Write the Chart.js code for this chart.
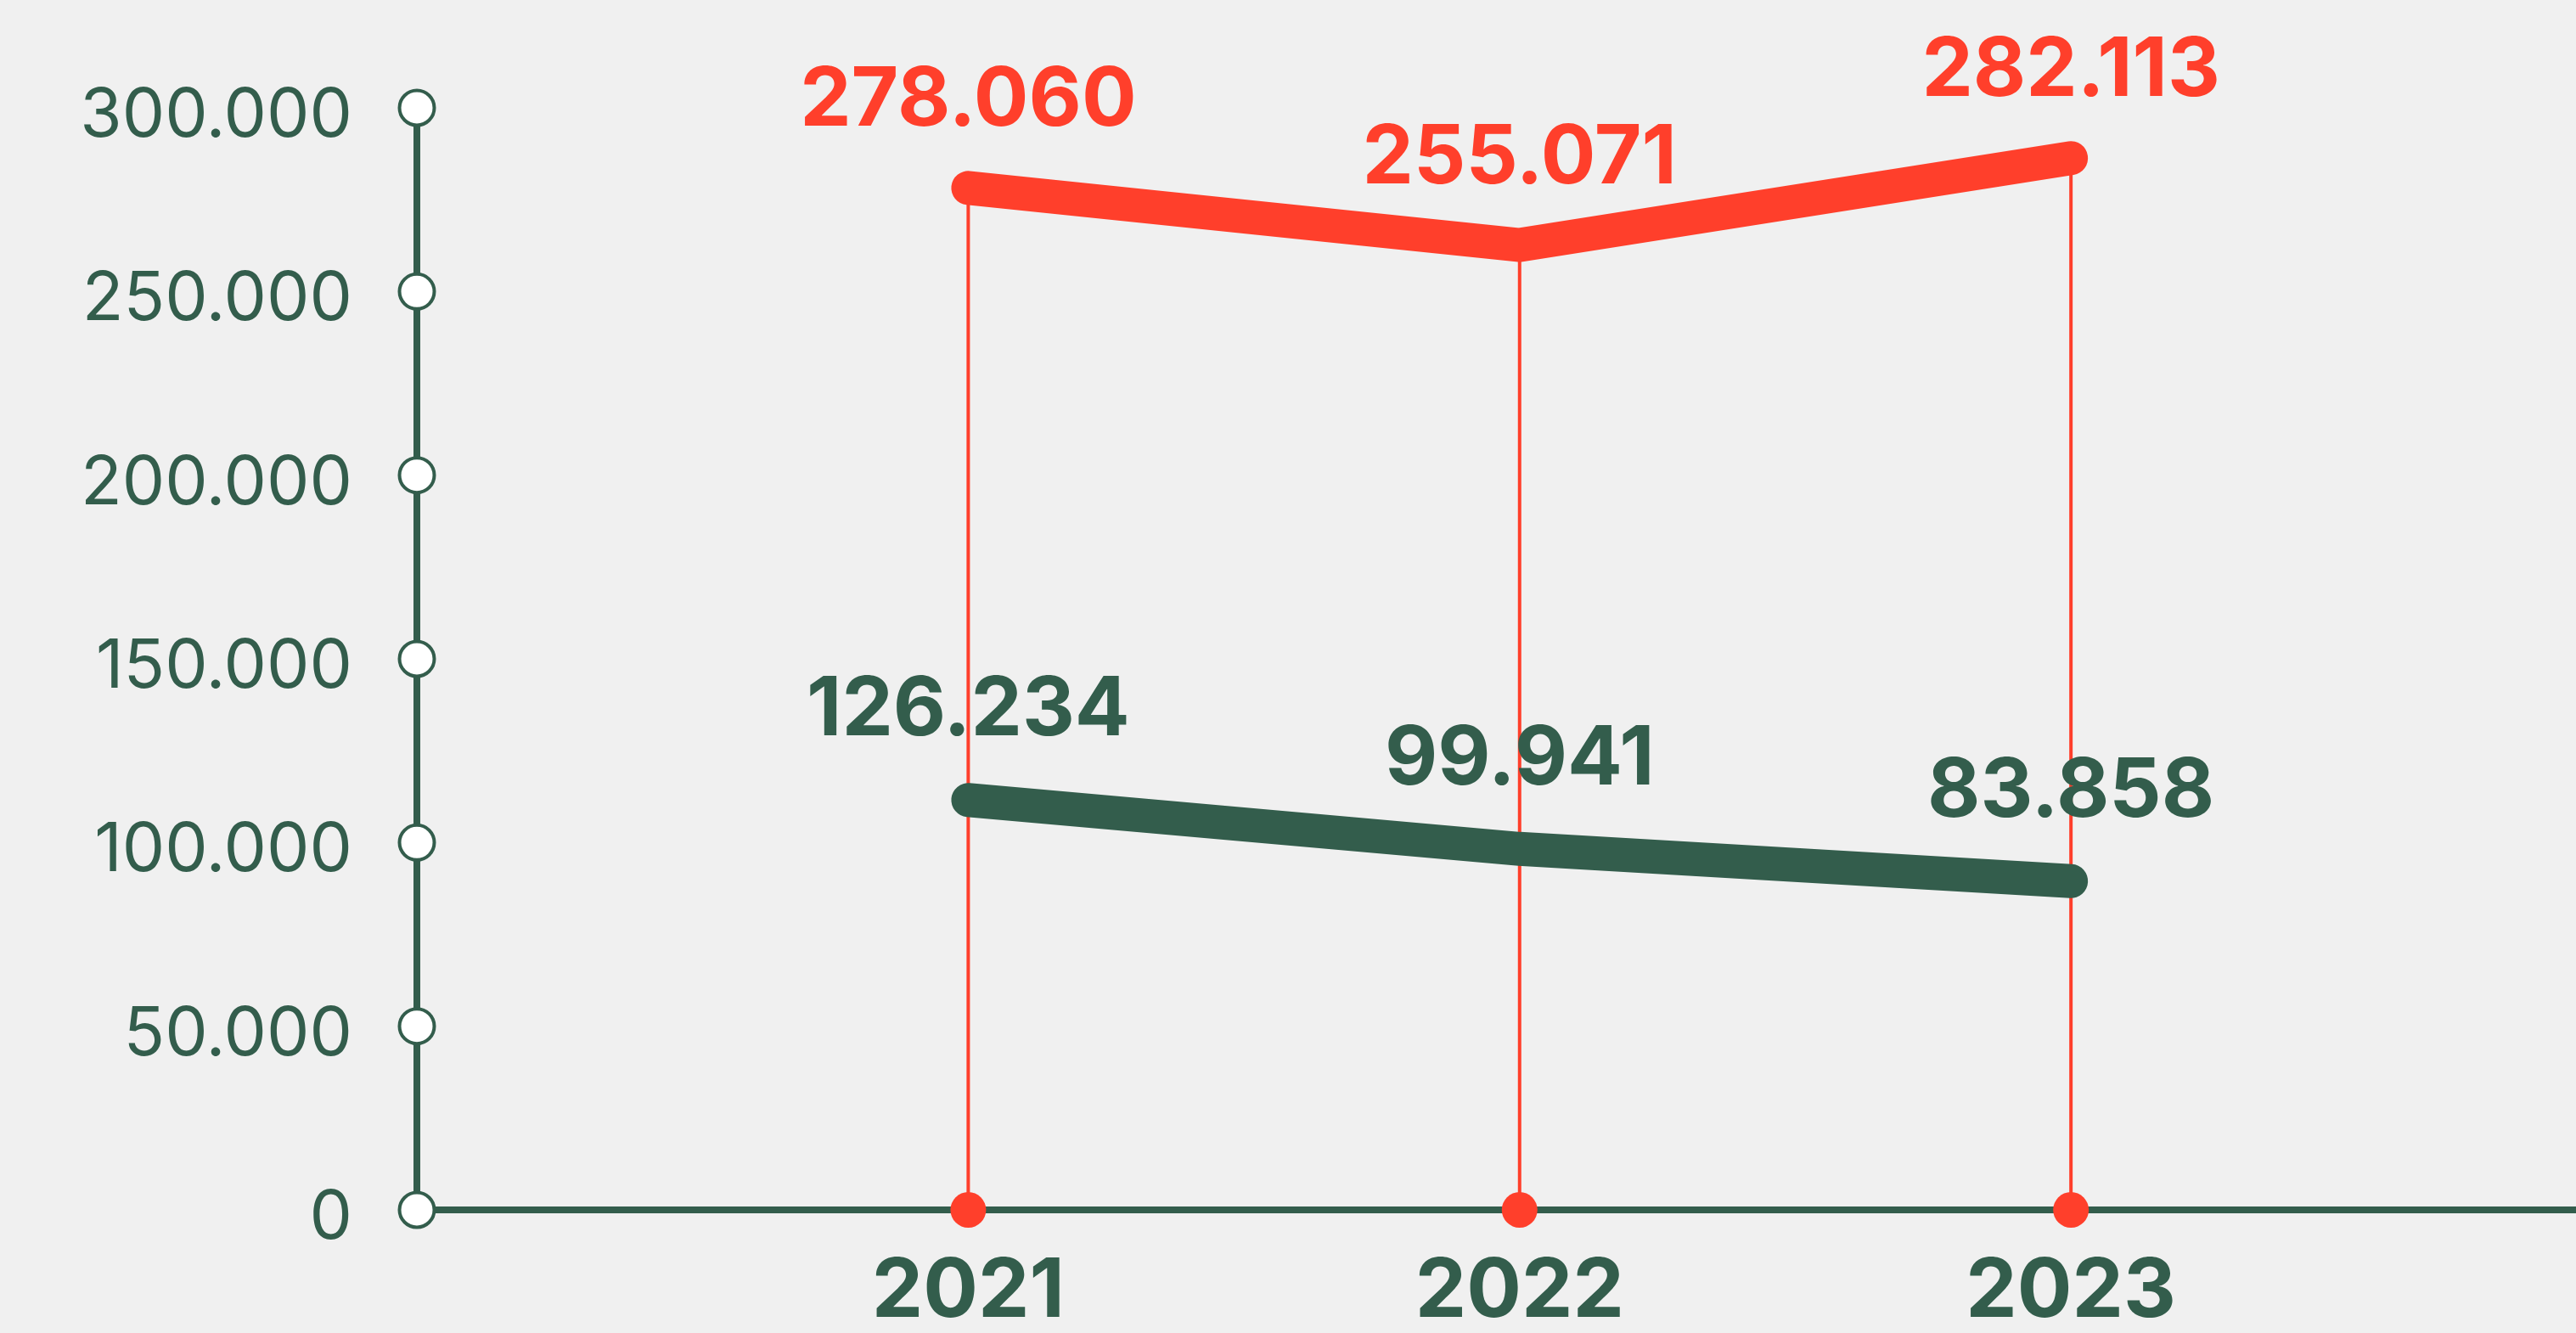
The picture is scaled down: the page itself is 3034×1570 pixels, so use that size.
<!DOCTYPE html>
<html>
<head>
<meta charset="utf-8">
<script src="https://cdn.jsdelivr.net/npm/chart.js@4"></script>
<style>
  html, body { margin: 0; padding: 0; background: #F0F0F0; overflow: hidden; }
  canvas { display: block; }
</style>
</head>
<body>
<canvas id="myChart" width="3034" height="1570"></canvas>
<script>
// data
var years = [2021, 2022, 2023];
var yearLabels = ['2021', '2022', '2023'];
var redValues = [278200, 262650, 286300];
var greenValues = [111570, 98270, 89490];
var redLabels = ['278.060', '255.071', '282.113'];
var greenLabels = ['126.234', '99.941', '83.858'];
var yTicks = [0, 50000, 100000, 150000, 200000, 250000, 300000];
var yTickLabels = ['0', '50.000', '100.000', '150.000', '200.000', '250.000', '300.000'];

var GREEN = '#335D4C';
var RED = '#FF3F2B';

function points(vals) {
    return years.map(function (y, i) { return { x: y, y: vals[i] }; });
}

var decor = {
    id: 'decor',
    beforeDatasetsDraw: function (chart) {
        var c = chart.ctx, xs = chart.scales.x, ys = chart.scales.y;
        var x0 = xs.getPixelForValue(2020);
        var yb = ys.getPixelForValue(0);
        var yt = ys.getPixelForValue(300000);
        c.save();
        c.strokeStyle = GREEN;
        c.lineWidth = 8;
        c.beginPath();
        c.moveTo(x0, yt); c.lineTo(x0, yb);
        c.moveTo(x0, yb); c.lineTo(chart.width, yb);
        c.stroke();
        // circles on the y axis
        yTicks.forEach(function (v) {
            c.beginPath();
            c.arc(x0, ys.getPixelForValue(v), 20.5, 0, Math.PI * 2);
            c.fillStyle = '#FFFFFF';
            c.fill();
            c.lineWidth = 4;
            c.strokeStyle = GREEN;
            c.stroke();
        });
        // red drop lines + dots
        years.forEach(function (yr, i) {
            var px = xs.getPixelForValue(yr);
            c.beginPath();
            c.moveTo(px, yb);
            c.lineTo(px, ys.getPixelForValue(redValues[i]));
            c.lineWidth = 4;
            c.strokeStyle = RED;
            c.stroke();
            c.beginPath();
            c.arc(px, yb, 21, 0, Math.PI * 2);
            c.fillStyle = RED;
            c.fill();
        });
        c.restore();
    },
    afterDatasetsDraw: function (chart) {
        var c = chart.ctx, xs = chart.scales.x, ys = chart.scales.y;
        c.save();
        c.font = '700 96px Inter';
        c.textAlign = 'center';
        c.textBaseline = 'alphabetic';
        years.forEach(function (yr, i) {
            var px = xs.getPixelForValue(yr);
            c.fillStyle = RED;
            c.fillText(redLabels[i], px, ys.getPixelForValue(redValues[i]) - 73);
            c.fillStyle = GREEN;
            c.fillText(greenLabels[i], px, ys.getPixelForValue(greenValues[i]) - 76);
        });
        c.restore();
    }
};

function draw() {
    var ctx = document.getElementById('myChart');
    new Chart(ctx, {
        type: 'line',
        data: {
            datasets: [{
                data: points(redValues),
                borderColor: RED,
                borderWidth: 40,
                borderCapStyle: 'round',
                borderJoinStyle: 'miter',
                pointRadius: 0,
                tension: 0,
                clip: false
            }, {
                data: points(greenValues),
                borderColor: GREEN,
                borderWidth: 40,
                borderCapStyle: 'round',
                borderJoinStyle: 'miter',
                pointRadius: 0,
                tension: 0,
                clip: false
            }]
        },
        options: {
            responsive: false,
            animation: false,
            devicePixelRatio: 1,
            layout: { padding: { top: 127, right: 0, bottom: 0, left: 0 } },
            plugins: { legend: { display: false }, tooltip: { enabled: false } },
            scales: {
                x: {
                    type: 'linear',
                    min: 2020,
                    max: 2023.916,
                    afterBuildTicks: function (s) {
                        s.ticks = years.map(function (y) { return { value: y }; });
                    },
                    afterFit: function (s) { s.height = 145; },
                    grid: { display: false, drawTicks: false },
                    border: { display: false },
                    ticks: {
                        padding: 40,
                        color: GREEN,
                        font: { family: 'Inter', size: 96, weight: '700' },
                        maxRotation: 0,
                        autoSkip: false,
                        callback: function (v) {
                            var i = years.indexOf(v);
                            return i >= 0 ? yearLabels[i] : '';
                        }
                    }
                },
                y: {
                    min: 0,
                    max: 300000,
                    afterBuildTicks: function (s) {
                        s.ticks = yTicks.map(function (v) { return { value: v }; });
                    },
                    afterFit: function (s) { s.width = 491; },
                    grid: { display: false, drawTicks: false },
                    border: { display: false },
                    ticks: {
                        padding: 76,
                        labelOffset: 10,
                        color: GREEN,
                        font: { family: 'Inter', size: 80, weight: '400' },
                        callback: function (v) {
                            var i = yTicks.indexOf(v);
                            return i >= 0 ? yTickLabels[i] : '';
                        }
                    }
                }
            }
        },
        plugins: [decor]
    });
}

Promise.all([
    document.fonts.load('400 80px Inter'),
    document.fonts.load('700 96px Inter')
]).then(draw, draw);
</script>
</body>
</html>
